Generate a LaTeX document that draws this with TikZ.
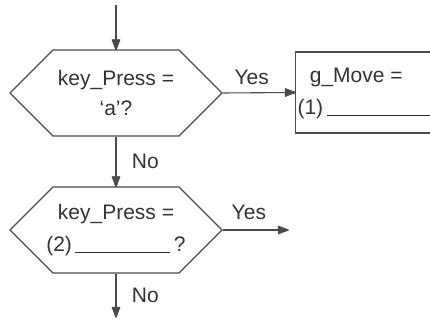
\documentclass[tikz,border=0pt]{standalone}
\usepackage{fontspec}
\setmainfont{Liberation Sans}
\usetikzlibrary{shapes.symbols, positioning}
\definecolor{linegray}{rgb}{0.3,0.3,0.3}
\definecolor{textgray}{rgb}{0.2,0.2,0.2}

% arrow head made of strokes, point at #1, turned by #2 degrees (0 = to the right)
\newcommand{\headat}[2]{%
  \begin{scope}[shift={(#1)}, rotate=#2]
    \foreach \k in {-4,-3.5,...,4}
      \draw[linegray, line width=1pt] (0,0) -- (-10,\k);
  \end{scope}}

\begin{document}
\begin{tikzpicture}[x=1pt, y=1pt, line width=1.1pt,
  every node/.style={font=\fontsize{21}{30}\selectfont, text=textgray},
  decision/.style={draw=linegray, signal, signal to=west and east, signal pointer angle=90,
    minimum width=212pt, minimum height=86pt, inner sep=0pt},
  flowline/.style={draw=linegray}]
  \clip (0,0) rectangle (430,320);
  \coordinate (start) at (116,315);
  \node[decision] (ask1) at (116,227) {};
  \node[align=center] (ask1text) at (ask1) {key\_Press =\\‘a’?};
  \node[decision] (ask2) at (116,90) {};
  \node[align=center, font=\fontsize{21}{32}\selectfont] (ask2text) at (ask2) {key\_Press =\\(2)\,\rule[-1pt]{95pt}{0.8pt}\,?};
  \node[draw=linegray, minimum width=170pt, minimum height=81pt, anchor=west] (move) at (295,227.5) {};
  \node[anchor=base west] (movetop) at (306,237) {g\_Move =};
  \node[anchor=base west, inner sep=1pt] (moveblank) at (296,205) {(1)\,\rule[-1pt]{110pt}{0.8pt}};
  \coordinate (yesend) at (288,90);
  \coordinate (stop) at (116,3);
  % connectors
  \draw[flowline] (start) -- (ask1.north);
  \draw[flowline] (ask1.east) -- node[above=4pt, pos=0.4] (yes1) {Yes} (move.west);
  \draw[flowline] (ask1.south) -- node[right=12pt] (no1) {No} (ask2.north);
  \draw[flowline] (ask2.east) -- node[above=6pt, pos=0.4] (yes2) {Yes} (yesend);
  \draw[flowline] (ask2.south) -- node[right=12pt] (no2) {No} (stop);
  % arrow heads
  \headat{ask1.north}{-90}
  \headat{move.west}{0}
  \headat{ask2.north}{-90}
  \headat{yesend}{0}
  \headat{stop}{-90}
\end{tikzpicture}
\end{document}
